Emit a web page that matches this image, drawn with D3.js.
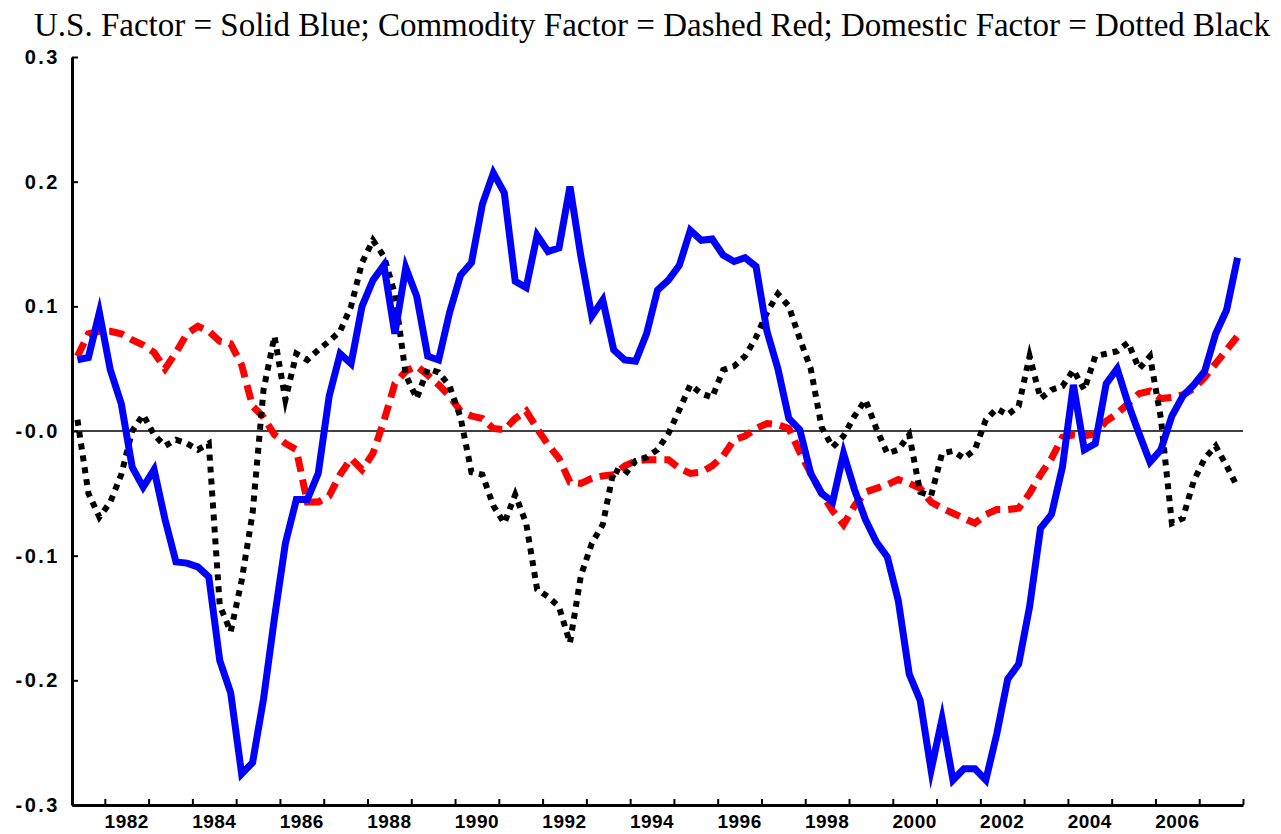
<!DOCTYPE html>
<html><head><meta charset="utf-8">
<script src="https://cdn.jsdelivr.net/npm/d3@7"></script>
<style>body{margin:0;background:#fff;} svg{display:block;}</style>
</head><body>
<script>
const titleText = "U.S. Factor = Solid Blue; Commodity Factor = Dashed Red; Domestic Factor = Dotted Black";
const startDate = 1981.375; // 1981:Q2, quarterly observations
const usFactor = [0.057,0.059,0.095,0.049,0.022,-0.029,-0.045,-0.031,-0.071,-0.105,
-0.106,-0.109,-0.117,-0.184,-0.21,-0.275,-0.266,-0.215,-0.15,-0.09,
-0.055,-0.055,-0.034,0.028,0.062,0.054,0.1,0.121,0.133,0.078,
0.131,0.108,0.06,0.057,0.095,0.125,0.135,0.182,0.207,0.191,
0.12,0.115,0.157,0.144,0.147,0.196,0.14,0.092,0.105,0.065,
0.057,0.056,0.078,0.113,0.121,0.133,0.161,0.153,0.154,0.141,
0.136,0.139,0.132,0.08,0.05,0.01,0.001,-0.034,-0.05,-0.057,
-0.018,-0.047,-0.071,-0.089,-0.101,-0.136,-0.195,-0.216,-0.272,-0.231,
-0.28,-0.271,-0.271,-0.28,-0.243,-0.199,-0.187,-0.141,-0.078,-0.067,
-0.029,0.037,-0.015,-0.01,0.038,0.05,0.022,-0.002,-0.025,-0.015,
0.012,0.028,0.037,0.048,0.078,0.097,0.139];
const commodityFactor = [0.06,0.078,0.08,0.08,0.078,0.073,0.069,0.063,0.05,0.063,
0.078,0.084,0.08,0.072,0.07,0.053,0.02,0.011,-0.003,-0.01,
-0.015,-0.057,-0.057,-0.052,-0.035,-0.022,-0.031,-0.018,0.008,0.038,
0.048,0.052,0.045,0.037,0.028,0.016,0.012,0.01,0.002,0.001,
0.01,0.016,0.002,-0.011,-0.022,-0.041,-0.042,-0.038,-0.036,-0.035,
-0.028,-0.024,-0.023,-0.023,-0.023,-0.03,-0.034,-0.033,-0.028,-0.02,
-0.007,-0.004,0.002,0.006,0.005,0.002,-0.017,-0.034,-0.05,-0.064,
-0.075,-0.06,-0.049,-0.046,-0.043,-0.039,-0.042,-0.046,-0.057,-0.062,
-0.066,-0.07,-0.074,-0.067,-0.063,-0.063,-0.062,-0.05,-0.035,-0.022,
-0.005,-0.003,-0.004,-0.002,0.008,0.014,0.022,0.03,0.032,0.026,
0.027,0.029,0.034,0.043,0.054,0.065,0.076];
const domesticFactor = [0.009,-0.05,-0.069,-0.057,-0.035,0.0,0.013,-0.003,-0.012,-0.007,
-0.01,-0.015,-0.01,-0.14,-0.161,-0.12,-0.066,0.033,0.076,0.025,
0.062,0.057,0.065,0.072,0.08,0.1,0.135,0.153,0.14,0.11,
0.045,0.026,0.05,0.047,0.036,0.011,-0.033,-0.035,-0.06,-0.074,
-0.051,-0.074,-0.127,-0.133,-0.141,-0.17,-0.116,-0.09,-0.075,-0.031,
-0.035,-0.024,-0.021,-0.015,-0.002,0.017,0.037,0.03,0.027,0.049,
0.052,0.06,0.075,0.095,0.11,0.1,0.074,0.05,0.003,-0.013,
-0.004,0.012,0.025,0.002,-0.018,-0.015,-0.003,-0.049,-0.052,-0.018,
-0.016,-0.022,-0.015,0.009,0.018,0.013,0.02,0.06,0.026,0.033,
0.036,0.049,0.033,0.06,0.062,0.064,0.071,0.05,0.06,0.01,
-0.074,-0.07,-0.04,-0.022,-0.012,-0.028,-0.045];
const yTicks = [0.3,0.2,0.1,0,-0.1,-0.2,-0.3];
const yTickLabels = ["0.3","0.2","0.1","-0.0","-0.1","-0.2","-0.3"];
const xTickYears = d3.range(1982, 2009);
const xLabelYears = [1982,1984,1986,1988,1990,1992,1994,1996,1998,2000,2002,2004,2006];

const W = 1281, H = 834;
const svg = d3.select("body").append("svg").attr("width", W).attr("height", H);
const x = d3.scaleLinear().domain([1981.25, 2008]).range([72, 1243]);
const y = d3.scaleLinear().domain([-0.3, 0.3]).range([805, 57]);

svg.append("text").attr("x", 652).attr("y", 36).attr("text-anchor", "middle")
  .attr("font-family", "Liberation Serif, Times New Roman, serif").attr("font-size", 33)
  .attr("textLength", 1236).attr("lengthAdjust", "spacingAndGlyphs")
  .text(titleText);

// zero line
svg.append("line").attr("x1", x(1981.25)).attr("x2", x(2008)).attr("y1", y(0)).attr("y2", y(0))
  .attr("stroke", "#000").attr("stroke-width", 1.6);

const dates = usFactor.map((_, i) => startDate + i * 0.25);
const line = d3.line().x((d, i) => x(dates[i])).y(d => y(d));
const g = svg.append("g").attr("fill", "none").attr("stroke-linejoin", "miter").attr("stroke-miterlimit", 6);
g.append("path").datum(commodityFactor).attr("d", line).attr("stroke", "#ff0000")
  .attr("stroke-width", 7).attr("stroke-dasharray", "15,8");
g.append("path").datum(domesticFactor).attr("d", line).attr("stroke", "#000")
  .attr("stroke-width", 6).attr("stroke-dasharray", "6,6");
g.append("path").datum(usFactor).attr("d", line).attr("stroke", "#0000ff")
  .attr("stroke-width", 7);

// axes
const yAxis = d3.axisLeft(y).tickValues(yTicks).tickSizeInner(-6).tickSizeOuter(0)
  .tickPadding(12).tickFormat((d, i) => yTickLabels[i]);
const ya = svg.append("g").attr("transform", `translate(${x(1981.25)},0)`).call(yAxis);
ya.select(".domain").attr("stroke-width", 3);
ya.selectAll(".tick line").attr("stroke-width", 2);
ya.selectAll("text").attr("font-family", "Liberation Sans, Arial, sans-serif")
  .attr("font-weight", "bold").attr("font-size", 20).attr("letter-spacing", 2.5).attr("fill", "#000");

const xAxis = d3.axisBottom(x).tickValues(xTickYears).tickSizeInner(-6).tickSizeOuter(0).tickFormat("");
const xa = svg.append("g").attr("transform", `translate(0,${y(-0.3)})`).call(xAxis);
xa.select(".domain").attr("stroke-width", 3);
xa.selectAll(".tick line").attr("stroke-width", 2);

svg.append("g").selectAll("text").data(xLabelYears).join("text")
  .attr("x", d => x(d + 0.5)).attr("y", 828).attr("text-anchor", "middle")
  .attr("font-family", "Liberation Sans, Arial, sans-serif").attr("font-weight", "bold")
  .attr("font-size", 19).attr("letter-spacing", 0.5).text(d => d);
</script>
</body></html>
